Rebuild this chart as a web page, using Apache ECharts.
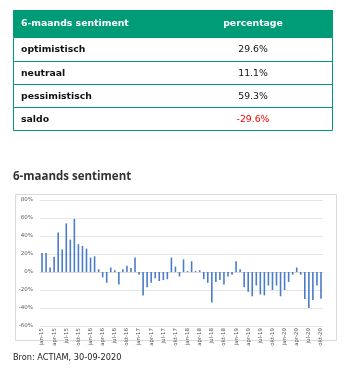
<!DOCTYPE html>
<html><head><meta charset="utf-8">
<script src="https://cdn.jsdelivr.net/npm/echarts@6/dist/echarts.min.js"></script>
<style>html,body{margin:0;padding:0;background:#fff}#c{width:353px;height:372px}</style>
</head><body><div id="c"></div>
<script>
var tableHeader = ['6-maands sentiment', 'percentage'];
var tableRows = ['optimistisch', 'neutraal', 'pessimistisch', 'saldo'];
var tableValues = ['29.6%', '11.1%', '59.3%', '-29.6%'];

var months = ['jan-15','feb-15','mrt-15','apr-15','mei-15','jun-15','jul-15','aug-15','sep-15','okt-15','nov-15','dec-15',
'jan-16','feb-16','mrt-16','apr-16','mei-16','jun-16','jul-16','aug-16','sep-16','okt-16','nov-16','dec-16',
'jan-17','feb-17','mrt-17','apr-17','mei-17','jun-17','jul-17','aug-17','sep-17','okt-17','nov-17','dec-17',
'jan-18','feb-18','mrt-18','apr-18','mei-18','jun-18','jul-18','aug-18','sep-18','okt-18','nov-18','dec-18',
'jan-19','feb-19','mrt-19','apr-19','mei-19','jun-19','jul-19','aug-19','sep-19','okt-19','nov-19','dec-19',
'jan-20','feb-20','mrt-20','apr-20','mei-20','jun-20','jul-20','aug-20','sep-20','okt-20'];

var sentiment = [21, 21, 5, 17, 44, 25, 54, 36, 59, 31, 29, 26,
16, 17.5, 3, -6, -12, 5, 2, -14, 3, 7, 4.5, 16,
-3, -26, -17, -12, -7, -10, -9, -8, 16, 6, -5, 14,
1, 12, 1, 2, -8, -12, -34, -11, -9, -14, -5, -3,
12, 3, -17, -22, -27, -15, -25, -26, -15, -20, -15, -27,
-20, -11, -3, 5, -3, -30, -40, -31, -15, -29.6];

var yTicks = [-60, -40, -20, 0, 20, 40, 60, 80];

var chart = echarts.init(document.getElementById('c'), null, {renderer: 'canvas'});
var green = '#009B77';
var graphics = [];
var tfont = '"DejaVu Sans", sans-serif';
var tx = 13, tw = 320;
var rowTops = [10, 37, 61, 84, 107, 130];
graphics.push({type: 'rect', shape: {x: tx, y: rowTops[0], width: tw, height: rowTops[1] - rowTops[0]}, style: {fill: green}});
graphics.push({type: 'text', x: 21, y: 24, style: {text: tableHeader[0], fill: '#fff', font: 'bold 9.3px ' + tfont, textVerticalAlign: 'middle'}});
graphics.push({type: 'text', x: 253, y: 24, style: {text: tableHeader[1], fill: '#fff', font: 'bold 9.3px ' + tfont, textAlign: 'center', textVerticalAlign: 'middle'}});
for (var r = 0; r < tableRows.length; r++) {
  var y0 = rowTops[r + 1], y1 = rowTops[r + 2];
  graphics.push({type: 'rect', shape: {x: tx + 0.5, y: y0 + 0.5, width: tw - 1, height: y1 - y0}, style: {fill: 'none', stroke: green, lineWidth: 1}});
  graphics.push({type: 'text', x: 21, y: (y0 + y1) / 2 + 1, style: {text: tableRows[r], fill: '#111', font: 'bold 9.3px ' + tfont, textVerticalAlign: 'middle'}});
  graphics.push({type: 'text', x: 253, y: (y0 + y1) / 2 + 1, style: {text: tableValues[r], fill: tableValues[r].charAt(0) === '-' ? '#ff0000' : '#111', font: '9.3px ' + tfont, textAlign: 'center', textVerticalAlign: 'middle'}});
}
graphics.push({type: 'text', x: 13, y: 177, style: {text: '6-maands sentiment', fill: '#333', font: 'bold 11.5px "Open Sans", sans-serif', textVerticalAlign: 'middle'}});
graphics.push({type: 'rect', shape: {x: 15.5, y: 194.5, width: 321, height: 146}, style: {fill: 'none', stroke: '#d9d9d9', lineWidth: 1}, z: -1});
graphics.push({type: 'text', x: 13, y: 358, style: {text: 'Bron: ACTIAM, 30-09-2020', fill: '#222', font: '8.2px ' + tfont, textVerticalAlign: 'middle'}});

chart.setOption({
  animation: false,
  grid: {left: 40, right: 30, top: 200, bottom: 46},
  xAxis: {
    type: 'category', data: months,
    axisLine: {onZero: true, lineStyle: {color: '#d9d9d9'}},
    axisTick: {show: false},
    axisLabel: {interval: 2, rotate: 90, fontSize: 5.5, color: '#595959', margin: 2, fontFamily: 'DejaVu Sans'}
  },
  yAxis: {
    type: 'value', min: -60, max: 80, interval: 20,
    axisLine: {show: false}, axisTick: {show: false},
    splitLine: {lineStyle: {color: '#e6e6e6'}},
    axisLabel: {formatter: function (v) { return v + '%'; }, fontSize: 5.5, color: '#595959', margin: 7, fontFamily: 'DejaVu Sans'}
  },
  series: [{type: 'bar', data: sentiment, barWidth: 1.6, itemStyle: {color: '#4a7cc7'}}],
  graphic: graphics
});
</script></body></html>
